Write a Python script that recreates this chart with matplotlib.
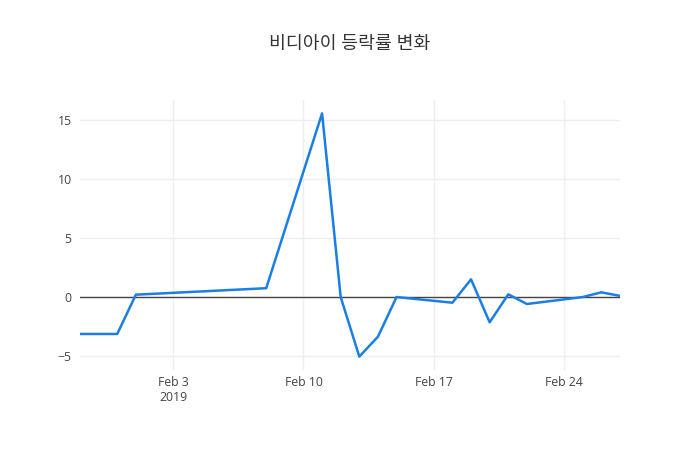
import numpy as np
import matplotlib
matplotlib.use('Agg')
import matplotlib.pyplot as plt
import matplotlib.dates as mdates

plt.rcParams['font.family'] = ['Open Sans', 'Noto Sans CJK KR', 'DejaVu Sans']

# daily change rate (%), trading days only
dates = np.array([
    '2019-01-29', '2019-01-30', '2019-01-31', '2019-02-01', '2019-02-08',
    '2019-02-11', '2019-02-12', '2019-02-13', '2019-02-14', '2019-02-15',
    '2019-02-18', '2019-02-19', '2019-02-20', '2019-02-21', '2019-02-22',
    '2019-02-25', '2019-02-26', '2019-02-27',
], dtype='datetime64[D]')
rates = [-3.13, -3.13, -3.13, 0.2, 0.75,
         15.57, 0.0, -5.05, -3.36, 0.0,
         -0.48, 1.5, -2.14, 0.23, -0.59,
         0.0, 0.4, 0.1]

tick_dates = np.array(['2019-02-03', '2019-02-10', '2019-02-17', '2019-02-24'],
                      dtype='datetime64[D]')
tick_labels = ['Feb 3\n2019', 'Feb 10', 'Feb 17', 'Feb 24']
y_ticks = [-5, 0, 5, 10, 15]

title = '비디아이 등락률 변화'

fig = plt.figure(figsize=(7, 4.5), dpi=100)
ax = fig.add_axes([80 / 700, 80 / 450, 540 / 700, 270 / 450])

ax.plot(dates, rates, color='#1a7fe3', linewidth=1.8, zorder=3)
ax.axhline(0, color='#444444', linewidth=1, zorder=2)

lo, hi = min(rates), max(rates)
pad = (hi - lo) * 0.055
ax.set_ylim(lo - pad, hi + pad)
ax.set_xlim(dates[0], dates[-1])

ax.set_xticks(tick_dates)
ax.set_xticklabels(tick_labels)
ax.set_yticks(y_ticks)
ax.set_yticklabels([str(v).replace('-', '\u2212') for v in y_ticks])

ax.grid(True, color='#eeeeee', linewidth=1, zorder=0)
for s in ax.spines.values():
    s.set_visible(False)
ax.tick_params(length=0, labelsize=8.8, colors='#444444', pad=4)
ax.tick_params(axis='y', pad=6)

fig.text(0.5, 1 - 44 / 450, title, ha='center', va='center',
         fontsize=13.2, color='#333333', fontweight='medium')

fig.savefig('out.png', dpi=100)
